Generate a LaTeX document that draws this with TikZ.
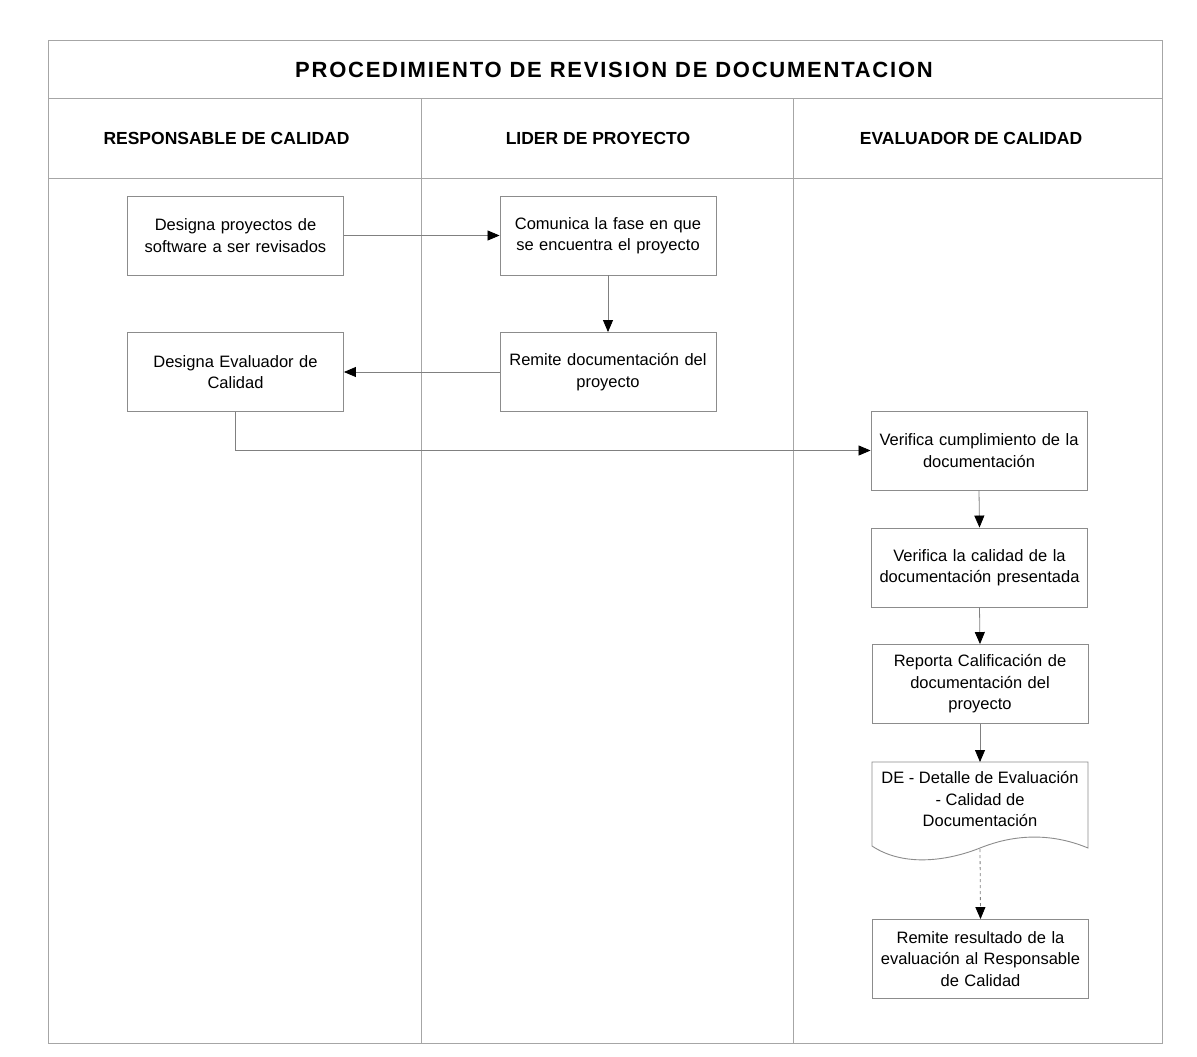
\documentclass[tikz,border=0pt]{standalone}
\usepackage{fontspec}
\setmainfont{Liberation Sans}
\usetikzlibrary{arrows.meta}
\begin{document}
\begin{tikzpicture}[x=1pt,y=-1pt,
  frame/.style={draw=black!35, line width=0.9pt},
  stepbox/.style={draw=black!45, line width=0.9pt, rectangle, minimum width=216pt,
    minimum height=79pt, align=center, text width=214pt, inner sep=0pt,
    font=\fontsize{16.5}{21.5}\selectfont},
  flow/.style={draw=black!50, line width=0.8pt,
    -{Triangle[length=12pt,width=10pt,color=black]}},
  head/.style={font=\bfseries\fontsize{17.5}{20}\selectfont},
]
% canvas
\useasboundingbox[fill=white] (0,0) rectangle (1197,1057);

% frame and swimlanes
\draw[frame] (48,40) rectangle (1162,1043);
\draw[frame] (48,98) -- (1162,98);
\draw[frame] (48,178) -- (1162,178);
\draw[frame] (421,98) -- (421,1043);
\draw[frame] (793,98) -- (793,1043);

\node[font=\bfseries\fontsize{22}{25}\selectfont\addfontfeature{LetterSpace=8}] (title) at (614,70) {PROCEDIMIENTO DE REVISION DE DOCUMENTACION};
\node[head] (lane1) at (226.5,138) {RESPONSABLE DE CALIDAD};
\node[head] (lane2) at (598,138) {LIDER DE PROYECTO};
\node[head] (lane3) at (971,138) {EVALUADOR DE CALIDAD};

% process steps
\node[stepbox] (b1) at (235.5,235.5) {Designa proyectos de\\software a ser revisados};
\node[stepbox] (b2) at (608,235.5) {Comunica la fase en que\\se encuentra el proyecto};
\node[stepbox] (b3) at (608,372) {Remite documentación del\\proyecto};
\node[stepbox] (b4) at (235.5,372) {Designa Evaluador de\\Calidad};
\node[stepbox] (b5) at (979,450.5) {Verifica cumplimiento de la\\documentación};
\node[stepbox] (b6) at (979.5,567.5) {Verifica la calidad de la\\documentación presentada};
\node[stepbox] (b7) at (980,684) {Reporta Calificación de\\documentación del\\proyecto};

% document shape
\draw[draw=black!45, line width=0.9pt]
  (872,762) -- (1088,762) -- (1088,848)
  .. controls (1040,828) and (1000,840) .. (980,848)
  .. controls (950,860) and (905,868) .. (872,846) -- cycle;
\node[align=center, font=\fontsize{16.5}{21.5}\selectfont] (doc) at (980,799)
  {DE - Detalle de Evaluación\\- Calidad de\\Documentación};
\coordinate (docb) at (980,849);

\node[stepbox] (b8) at (980.5,959) {Remite resultado de la\\evaluación al Responsable\\de Calidad};

% connectors
\draw[flow] (b1.east) -- (b2.west);
\draw[flow] (b2.south) -- (b3.north);
\draw[flow] (b3.west) -- (b4.east);
\draw[flow] (b4.south) -- (b4.south |- b5.west) -- (b5.west);
\draw[flow] (b5.south) -- (b6.north);
\draw[flow] (b6.south) -- (b7.north);
\draw[flow] (b7.south) -- (b7.south |- 0,762);
\draw[flow, dashed] (docb) -- (b8.north);
\end{tikzpicture}
\end{document}
